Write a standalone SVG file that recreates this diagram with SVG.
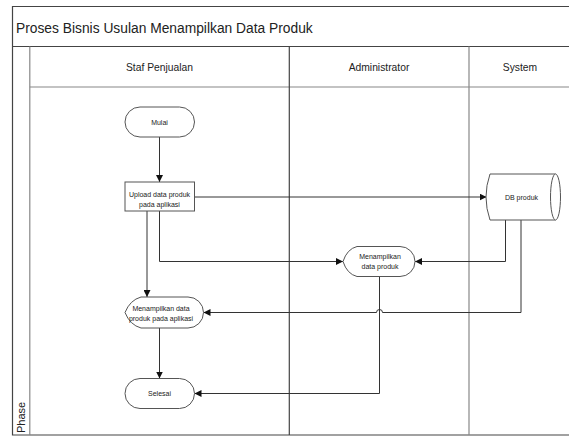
<svg xmlns="http://www.w3.org/2000/svg" width="569" height="436" viewBox="0 0 569 436">
<style>
.frame{fill:none;stroke:#444;stroke-width:1.2}
.lane{fill:none;stroke:#888;stroke-width:1.2}
.node{fill:#fff;stroke:#555;stroke-width:1}
.t{font-family:"Liberation Sans",Arial,sans-serif;fill:#222;text-anchor:middle}
.nt{font-size:7px}
.ht{font-size:10.3px}
.conn{fill:none;stroke:#333;stroke-width:1}
</style>
<defs>
<marker id="arr" viewBox="0 0 10 10" refX="10" refY="5" markerWidth="7" markerHeight="7" markerUnits="userSpaceOnUse" orient="auto">
<path d="M0,0 L10,5 L0,10 Z" fill="#111"/>
</marker>
</defs>
<rect width="569" height="436" fill="#fff"/>
<g id="pool">
<path class="frame" d="M575,6.5 H12.5 V435 H575"/>
<line class="frame" x1="12.5" y1="46.5" x2="575" y2="46.5"/>
<text x="16" y="33" font-family="Liberation Sans, Arial, sans-serif" font-size="13.8" fill="#222">Proses Bisnis Usulan Menampilkan Data Produk</text>
<line class="lane" x1="29.8" y1="46.5" x2="29.8" y2="435"/>
<line class="lane" x1="29.8" y1="87" x2="575" y2="87"/>
<line class="frame" x1="289.3" y1="46.5" x2="289.3" y2="435"/>
<line class="lane" x1="469" y1="46.5" x2="469" y2="435"/>
<text class="t ht" x="159.5" y="70.5">Staf Penjualan</text>
<text class="t ht" x="379" y="70.5">Administrator</text>
<text class="t ht" x="520" y="70.5">System</text>
<text x="25" y="433" transform="rotate(-90 25 433)" font-family="Liberation Sans, Arial, sans-serif" font-size="11" fill="#222">Phase</text>
</g>
<g id="connectors">
<path class="conn" marker-end="url(#arr)" d="M159.5,137 V182"/>
<path class="conn" marker-end="url(#arr)" d="M194,197 H486.5"/>
<path class="conn" marker-end="url(#arr)" d="M159.5,211 V261.5 H343"/>
<path class="conn" marker-end="url(#arr)" d="M147,211 V297"/>
<path class="conn" marker-end="url(#arr)" d="M505.5,220 V261.5 H415"/>
<path class="conn" marker-end="url(#arr)" d="M521,220 V312.5 H382.5 A3,3 0 0 0 376.5,312.5 H203.5"/>
<path class="conn" marker-end="url(#arr)" d="M379.5,277 V393.5 H194.5"/>
<path class="conn" marker-end="url(#arr)" d="M159.5,328 V378.5"/>
</g>
<g id="mulai">
<rect class="node" x="125" y="107" width="69.5" height="30" rx="15" ry="15"/>
<text class="t nt" x="159.5" y="124.5">Mulai</text>
</g>
<g id="upload">
<rect class="node" x="125" y="182" width="69.5" height="29"/>
<text class="t nt" x="159.5" y="196.5">Upload data produk</text>
<text class="t nt" x="159.5" y="206.5">pada aplikasi</text>
</g>
<g id="db-produk">
<path class="node" d="M490,174 H555.5 A5,23 0 0 1 555.5,220 H490 Q482,197 490,174 Z"/>
<path class="node" fill="none" d="M555.5,174 A5,23 0 0 0 555.5,220"/>
<text class="t nt" x="521.5" y="199.5">DB produk</text>
</g>
<g id="menampilkan-admin">
<path class="node" d="M343,261.5 Q347,249 357,246.5 H400 A15,15 0 0 1 400,276.5 H357 Q347,274 343,261.5 Z"/>
<text class="t nt" x="380" y="258.5">Menampilkan</text>
<text class="t nt" x="380" y="269">data produk</text>
</g>
<g id="menampilkan-staf">
<path class="node" d="M125,312.5 Q130,300 141,297 H188 A15.5,15.5 0 0 1 188,328 H141 Q130,325 125,312.5 Z"/>
<text class="t nt" x="161" y="310.5">Menampilkan data</text>
<text class="t nt" x="161" y="320.5">produk pada aplikasi</text>
</g>
<g id="selesai">
<rect class="node" x="125" y="378.5" width="69.5" height="30" rx="15" ry="15"/>
<text class="t nt" x="159.5" y="396">Selesai</text>
</g>
</svg>
